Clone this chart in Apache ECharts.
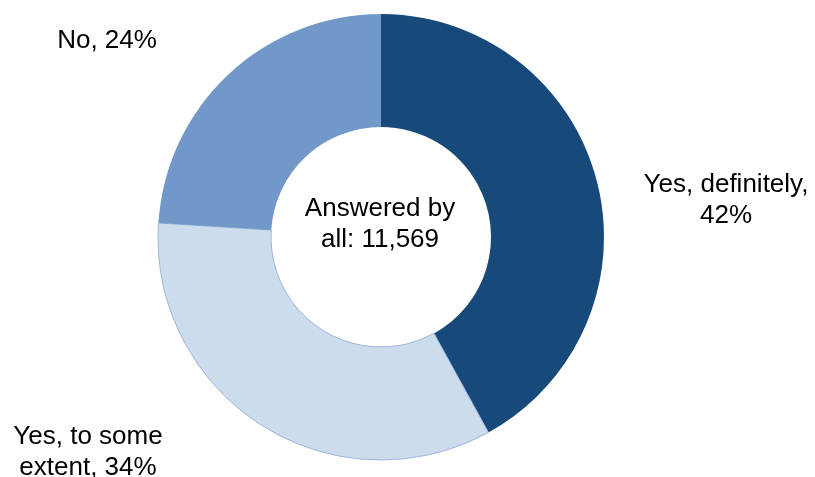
<!DOCTYPE html>
<html>
<head>
<meta charset="utf-8">
<script src="https://cdn.jsdelivr.net/npm/echarts@6/dist/echarts.min.js"></script>
<style>
html,body{margin:0;padding:0;background:#fff;}
#c{width:815px;height:477px;}
</style>
</head>
<body>
<div id="c"></div>
<script>
var categories = ['Yes, definitely', 'Yes, to some extent', 'No'];
var values = [42, 34, 24];
var labelTexts = ['Yes, definitely,\n42%', 'Yes, to some\nextent, 34%', 'No, 24%'];
var centerText = 'Answered by\nall: 11,569';

var colors = ['#174A7B', '#CDDCEC', '#7198C9'];
var borders = ['#174A7B', '#9DB6DD', '#7198C9'];
var labelPos = [
  {x: 726, y: 200},
  {x: 88, y: 452},
  {x: 107, y: 41}
];

var chart = echarts.init(document.getElementById('c'), null, {renderer: 'canvas'});
var data = categories.map(function (c, i) {
  return {
    name: c,
    value: values[i],
    itemStyle: {color: colors[i], borderColor: borders[i], borderWidth: i === 1 ? 1 : 0}
  };
});
chart.setOption({
  animation: false,
  backgroundColor: '#ffffff',
  graphic: [{
    type: 'text',
    x: 380,
    y: 224,
    style: {
      text: centerText,
      font: '26px "Liberation Sans", Arial, sans-serif',
      fill: '#000',
      align: 'center',
      verticalAlign: 'middle',
      lineHeight: 31
    }
  }],
  series: [{
    type: 'pie',
    center: [381, 237],
    radius: [110, 223],
    startAngle: 90,
    clockwise: true,
    silent: true,
    data: data,
    label: {
      show: true,
      position: 'outside',
      overflow: 'none',
      fontFamily: '"Liberation Sans", Arial, sans-serif',
      fontSize: 26,
      lineHeight: 31,
      color: '#000',
      align: 'center',
      formatter: function (p) { return labelTexts[p.dataIndex]; }
    },
    labelLine: {show: false},
    labelLayout: function (p) {
      var pos = labelPos[p.dataIndex];
      return {x: pos.x, y: pos.y, align: 'center', verticalAlign: 'middle'};
    }
  }]
});
</script>
</body>
</html>
